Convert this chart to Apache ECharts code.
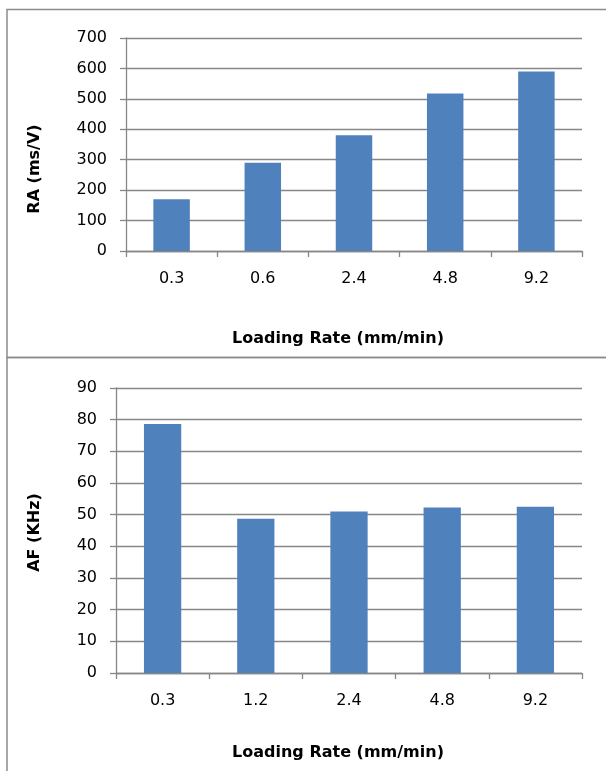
<!DOCTYPE html>
<html>
<head>
<meta charset="utf-8">
<script src="https://cdn.jsdelivr.net/npm/echarts@6/dist/echarts.min.js"></script>
<style>
html,body{margin:0;padding:0;background:#fff;}
#chart{width:606px;height:771px;}
</style>
</head>
<body>
<div id="chart"></div>
<script>
// Top chart: RA
const raCategories = ['0.3', '0.6', '2.4', '4.8', '9.2'];
const raValues = [170, 290, 380, 518, 590];
// Bottom chart: AF
const afCategories = ['0.3', '1.2', '2.4', '4.8', '9.2'];
const afValues = [78.6, 48.7, 51, 52.3, 52.5];

const xTitle = 'Loading Rate (mm/min)';
const raTitle = 'RA (ms/V)';
const afTitle = 'AF (KHz)';

const barColor = '#4F81BD';
const gridColor = '#878787';
const tickFont = {fontFamily: 'DejaVu Sans', fontSize: 16, color: '#000'};
const titleFont = {fontFamily: 'DejaVu Sans', fontSize: 16, fontWeight: 'bold', color: '#000'};

function xAxisCfg(idx, cats, gap, pad) {
  return {
    type: 'category', gridIndex: idx, data: cats,
    name: xTitle, nameLocation: 'middle', nameGap: gap,
    nameTextStyle: Object.assign({padding: [0, pad, 0, 0]}, titleFont),
    axisLine: {lineStyle: {color: gridColor, width: 1.3}},
    axisTick: {show: true, length: 6, lineStyle: {color: gridColor, width: 1.3}},
    axisLabel: Object.assign({margin: 20}, tickFont),
    splitLine: {show: false}
  };
}
function yAxisCfg(idx, max, interval, title, gap, pad) {
  return {
    type: 'value', gridIndex: idx, min: 0, max: max, interval: interval,
    name: title, nameLocation: 'middle', nameRotate: 90, nameGap: gap,
    nameTextStyle: Object.assign({padding: [0, pad, 0, 0]}, titleFont),
    axisLine: {show: true, lineStyle: {color: gridColor, width: 1.3}},
    axisTick: {show: true, length: 6, lineStyle: {color: gridColor, width: 1.3}},
    axisLabel: Object.assign({margin: 19}, tickFont),
    splitLine: {show: true, lineStyle: {color: gridColor, width: 1.3}}
  };
}

const chart = echarts.init(document.getElementById('chart'), null, {renderer: 'canvas'});
chart.setOption({
  animation: false,
  backgroundColor: '#fff',
  graphic: [
    {type: 'rect', silent: true, z: -10, shape: {x: 7, y: 9.5, width: 640, height: 348},
     style: {fill: 'none', stroke: '#8c8c8c', lineWidth: 1.5}},
    {type: 'rect', silent: true, z: -10, shape: {x: 7, y: 357.5, width: 640, height: 460},
     style: {fill: 'none', stroke: '#8c8c8c', lineWidth: 1.5}}
  ],
  grid: [
    {left: 126, right: 24, top: 38, height: 213},
    {left: 116, right: 24, top: 388, height: 285}
  ],
  xAxis: [
    xAxisCfg(0, raCategories, 80, 32),
    xAxisCfg(1, afCategories, 72, 22)
  ],
  yAxis: [
    yAxisCfg(0, 700, 100, raTitle, 83, 49),
    yAxisCfg(1, 90, 10, afTitle, 73, 4)
  ],
  series: [
    {type: 'bar', xAxisIndex: 0, yAxisIndex: 0, data: raValues, barWidth: '40%',
     itemStyle: {color: barColor}},
    {type: 'bar', xAxisIndex: 1, yAxisIndex: 1, data: afValues, barWidth: '40%',
     itemStyle: {color: barColor}}
  ]
});
</script>
</body>
</html>
